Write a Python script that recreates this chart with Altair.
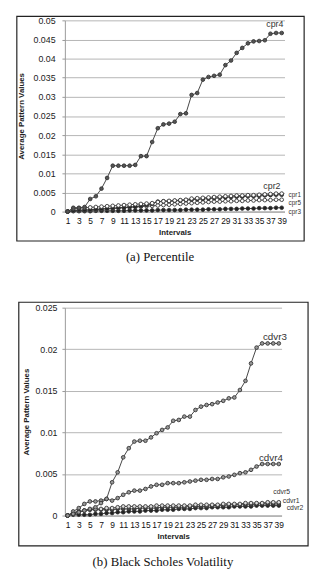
import altair as alt
import pandas as pd

intervals = list(range(1, 40))

# (a) Percentile
cpr4 = [0, 0.0010, 0.0010, 0.0012, 0.0033, 0.0040, 0.0060, 0.0088, 0.0120, 0.0120,
        0.0120, 0.0120, 0.0122, 0.0145, 0.0145, 0.0182, 0.0218, 0.0228, 0.0230, 0.0235,
        0.0255, 0.0257, 0.0305, 0.0310, 0.0345, 0.0352, 0.0355, 0.0358, 0.0383, 0.0395,
        0.0415, 0.0428, 0.0440, 0.0445, 0.0446, 0.0448, 0.0465, 0.0467, 0.0467]
cpr2 = [0, 0.0008, 0.0009, 0.0010, 0.0011, 0.0012, 0.0013, 0.0014, 0.0015, 0.0016,
        0.0017, 0.0018, 0.0019, 0.0020, 0.0021, 0.0022, 0.0025, 0.0027, 0.0028, 0.0029,
        0.0030, 0.0031, 0.0034, 0.0035, 0.0036, 0.0037, 0.0038, 0.0039, 0.0040, 0.0041,
        0.0042, 0.0042, 0.0043, 0.0043, 0.0044, 0.0045, 0.0046, 0.0047, 0.0047]
cpr1 = [0, 0.0003, 0.0004, 0.0004, 0.0005, 0.0006, 0.0007, 0.0008, 0.0009, 0.0010,
        0.0011, 0.0012, 0.0013, 0.0015, 0.0017, 0.0020, 0.0026, 0.0027, 0.0027, 0.0028,
        0.0029, 0.0030, 0.0031, 0.0032, 0.0033, 0.0034, 0.0035, 0.0036, 0.0037, 0.0038,
        0.0039, 0.0039, 0.0040, 0.0040, 0.0041, 0.0042, 0.0043, 0.0044, 0.0044]
cpr5 = [0, 0.0002, 0.0003, 0.0003, 0.0004, 0.0005, 0.0006, 0.0007, 0.0008, 0.0009,
        0.0010, 0.0011, 0.0012, 0.0013, 0.0014, 0.0015, 0.0016, 0.0017, 0.0018, 0.0019,
        0.0020, 0.0021, 0.0022, 0.0023, 0.0024, 0.0025, 0.0026, 0.0026, 0.0027, 0.0027,
        0.0028, 0.0028, 0.0029, 0.0029, 0.0030, 0.0030, 0.0030, 0.0031, 0.0031]
cpr3 = [0, 0.0001, 0.0001, 0.0001, 0.0001, 0.0002, 0.0002, 0.0002, 0.0002, 0.0002,
        0.0002, 0.0003, 0.0003, 0.0003, 0.0003, 0.0003, 0.0004, 0.0004, 0.0004, 0.0004,
        0.0004, 0.0005, 0.0005, 0.0005, 0.0005, 0.0006, 0.0006, 0.0006, 0.0007, 0.0007,
        0.0007, 0.0008, 0.0008, 0.0008, 0.0009, 0.0009, 0.0009, 0.0010, 0.0010]

# (b) Black Scholes Volatility
cdvr3 = [0, 0.0002, 0.0004, 0.0006, 0.0008, 0.0010, 0.0015, 0.0020, 0.0040, 0.0052,
         0.0070, 0.0081, 0.0089, 0.0090, 0.0090, 0.0094, 0.0099, 0.0103, 0.0106, 0.0114,
         0.0115, 0.0119, 0.0119, 0.0127, 0.0131, 0.0133, 0.0134, 0.0136, 0.0138, 0.0141,
         0.0142, 0.0151, 0.0162, 0.0183, 0.0202, 0.0207, 0.0207, 0.0207, 0.0207]
cdvr4 = [0, 0.0005, 0.0009, 0.0014, 0.0017, 0.0017, 0.0018, 0.0020, 0.0018, 0.0021,
         0.0025, 0.0028, 0.0030, 0.0030, 0.0032, 0.0035, 0.0037, 0.0037, 0.0039, 0.0039,
         0.0039, 0.0040, 0.0041, 0.0042, 0.0043, 0.0043, 0.0044, 0.0044, 0.0046, 0.0047,
         0.0049, 0.0051, 0.0052, 0.0055, 0.0059, 0.0062, 0.0062, 0.0062, 0.0062]
cdvr5 = [0, 0.0002, 0.0004, 0.0006, 0.0007, 0.0008, 0.0008, 0.0009, 0.0009, 0.0010,
         0.0011, 0.0011, 0.0011, 0.0011, 0.0011, 0.0011, 0.0012, 0.0012, 0.0012, 0.0012,
         0.0012, 0.0012, 0.0012, 0.0013, 0.0013, 0.0013, 0.0013, 0.0013, 0.0014, 0.0014,
         0.0014, 0.0014, 0.0015, 0.0015, 0.0015, 0.0015, 0.0016, 0.0016, 0.0016]
cdvr1 = [0, 0.0003, 0.0005, 0.0006, 0.0007, 0.0007, 0.0007, 0.0007, 0.0007, 0.0008,
         0.0008, 0.0008, 0.0008, 0.0009, 0.0009, 0.0009, 0.0009, 0.0010, 0.0010, 0.0010,
         0.0010, 0.0010, 0.0011, 0.0011, 0.0011, 0.0011, 0.0012, 0.0012, 0.0012, 0.0013,
         0.0013, 0.0013, 0.0013, 0.0013, 0.0014, 0.0014, 0.0014, 0.0014, 0.0014]
cdvr2 = [0, 0.0001, 0.0001, 0.0001, 0.0001, 0.0002, 0.0002, 0.0003, 0.0003, 0.0004,
         0.0004, 0.0005, 0.0005, 0.0005, 0.0006, 0.0006, 0.0006, 0.0007, 0.0007, 0.0007,
         0.0008, 0.0008, 0.0008, 0.0009, 0.0009, 0.0009, 0.0010, 0.0010, 0.0010, 0.0010,
         0.0011, 0.0011, 0.0011, 0.0011, 0.0012, 0.0012, 0.0012, 0.0012, 0.0012]

top_series = {"cpr3": cpr3, "cpr5": cpr5, "cpr1": cpr1, "cpr2": cpr2, "cpr4": cpr4}
top_fill = {"cpr3": "#222222", "cpr5": "#ffffff", "cpr1": "#222222", "cpr2": "#ffffff", "cpr4": "#555555"}
# label offsets: (dx, dy, align, size)
top_labels = {"cpr4": (-7, -9, "center", 9), "cpr2": (-10, -8, "center", 9),
              "cpr1": (7, 0, "left", 6.5), "cpr5": (7, 3, "left", 6.5), "cpr3": (7, 4, "left", 6.5)}

bot_series = {"cdvr2": cdvr2, "cdvr1": cdvr1, "cdvr5": cdvr5, "cdvr4": cdvr4, "cdvr3": cdvr3}
bot_fill = {"cdvr2": "#222222", "cdvr1": "#444444", "cdvr5": "#dddddd", "cdvr4": "#999999", "cdvr3": "#999999"}
bot_labels = {"cdvr3": (-4, -6, "center", 10), "cdvr4": (-8, -6, "center", 10),
              "cdvr5": (3, -10, "center", 7), "cdvr1": (4, -3, "left", 7), "cdvr2": (8, 3, "left", 7)}


def long_df(series, fills):
    rows = []
    for name, vals in series.items():
        for i, v in zip(intervals, vals):
            rows.append({"series": name, "interval": i, "value": v, "fill": fills[name]})
    return pd.DataFrame(rows)


def box_symbol(x1, y1, x2, y2, color, width, opacity):
    # a rectangular outline drawn as one custom symbol centred in the box
    w = x2 - x1
    h = y2 - y1
    r = w / h
    path = "M{a:.4f},-1H{b:.4f}V1H{a:.4f}Z".format(a=-r, b=r)
    return alt.Chart(pd.DataFrame({"a": [0]})).mark_point(
        shape=path, size=h * h, filled=False, stroke=color, strokeWidth=width,
        strokeOpacity=opacity, opacity=1).encode(
        x=alt.value((x1 + x2) / 2), y=alt.value((y1 + y2) / 2))


def panel(series, fills, labels, ymax, ystep, W, H, ylab_pad, ytitle_pad,
          caption, frame, bound):
    df = long_df(series, fills)
    yticks = [round(ystep * k, 4) for k in range(int(round(ymax / ystep)) + 1)]
    xs = alt.Scale(domain=[0.5, 39.5], nice=False, zero=False)
    ys = alt.Scale(domain=[0, ymax], nice=False)
    xenc = alt.X("interval:Q", scale=xs, axis=alt.Axis(
        values=list(range(1, 40, 2)), title="Intervals", grid=False, ticks=False,
        labelFont="Liberation Sans", labelFontSize=8.6, labelColor="#111",
        labelPadding=5, labelOverlap=False, labelFlush=False,
        titleFont="Liberation Sans", titleFontSize=8, titleFontWeight="bold",
        titleColor="#222", titlePadding=4, domainColor="#999", format="d"))
    yenc = alt.Y("value:Q", scale=ys, axis=alt.Axis(
        values=yticks, title="Average Pattern Values", format="~g",
        grid=True, gridColor="#b5b5b5", tickColor="#999", tickSize=3,
        labelOverlap=False, labelFlush=False,
        labelFont="Liberation Sans", labelFontSize=9, labelColor="#222",
        labelPadding=ylab_pad - 3, titleFont="Liberation Sans", titleFontSize=8,
        titleFontWeight="bold", titleColor="#222", titlePadding=ytitle_pad,
        domainColor="#999"))
    fx1, fy1, fx2, fy2 = frame
    bx1, by2 = bound
    frame_layers = [
        box_symbol(fx1, fy1, fx2, fy2, "#222222", 1.2, 1.0),
        box_symbol(bx1, fy1, fx2, by2, "#ffffff", 0.5, 0.0),
    ]
    lines = alt.Chart(df).mark_line(color="#444", strokeWidth=1).encode(
        x=xenc, y=yenc, detail="series:N")
    pts = alt.Chart(df).mark_point(filled=False, size=14, stroke="#333",
                                   strokeWidth=0.9, opacity=1, shape="circle").encode(
        x=xenc, y=yenc, fill=alt.Fill("fill:N", scale=None))
    lab_layers = []
    for n, (dx, dy, align, size) in labels.items():
        ldf = pd.DataFrame([{"interval": 39, "value": series[n][-1], "label": n}])
        lab_layers.append(alt.Chart(ldf).mark_text(
            dx=dx, dy=dy, align=align, baseline="middle", fontSize=size,
            font="Liberation Sans", color="#333").encode(
            x=xenc, y=yenc, text="label:N"))
    cap_text, cap_x, cap_y = caption
    cap = alt.Chart(pd.DataFrame({"t": [cap_text]})).mark_text(
        font="Liberation Serif", fontSize=13, color="#111", align="center",
        baseline="middle").encode(
        x=alt.value(cap_x), y=alt.value(cap_y), text="t:N")
    return alt.layer(lines, pts, *lab_layers, *frame_layers, cap).properties(
        width=W, height=H)


top = panel(top_series, top_fill, top_labels, 0.05, 0.005, 224, 195, 10, 8,
            ("(a) Percentile", 163 - 66, 253 - 12), (-49, -4, 244, 225), (-53, 253))
bot = panel(bot_series, bot_fill, bot_labels, 0.025, 0.005, 221, 212, 8, 5,
            ("(b) Black Scholes Volatility", 160 - 60, 562 - 302.5), (-47, -5.5, 248, 243),
            (-47, 262))

chart = alt.vconcat(top, bot, spacing=32).properties(
    padding={"left": 5, "top": 0, "right": 0, "bottom": 0}
).configure_view(stroke=None)

chart.save("out.html", embed_options={"renderer": "svg", "actions": False})
